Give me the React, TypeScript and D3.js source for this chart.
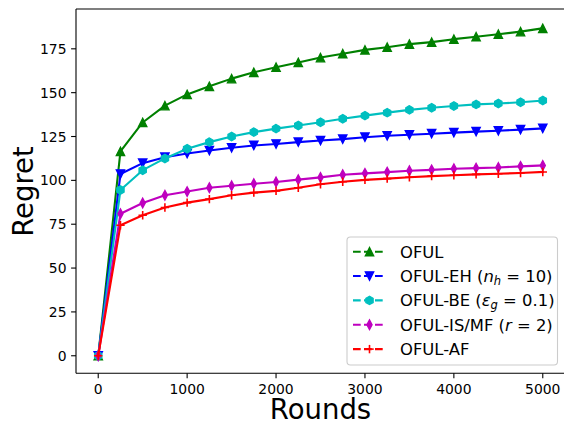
import React from "react";
import * as d3 from "d3";

const rounds = [0, 250, 500, 750, 1000, 1250, 1500, 1750, 2000, 2250, 2500, 2750, 3000, 3250, 3500, 3750, 4000, 4250, 4500, 4750, 5000];

const oful = [0, 116.5, 133, 142.6, 149, 153.6, 158, 161.6, 164.5, 167.2, 170, 172.2, 174.4, 175.9, 177.7, 178.8, 180.5, 181.9, 183.3, 184.8, 186.7];
const ofulEH = [0, 103.6, 109.8, 113.2, 115.3, 117, 118.6, 119.9, 120.7, 121.8, 122.7, 123.5, 124.6, 125.4, 126, 126.6, 127.2, 127.8, 128.3, 128.9, 129.6];
const ofulBE = [0, 94.5, 105.8, 112.5, 118, 121.8, 125, 127.5, 129.5, 131.3, 133.1, 135.1, 136.9, 138.6, 140.2, 141.4, 142.4, 143.3, 143.8, 144.5, 145.5];
const ofulIS = [0, 81, 87.1, 91.5, 93.6, 95.8, 96.9, 98.1, 99.1, 100.4, 101.7, 103.2, 104, 104.7, 105.5, 106, 106.6, 107, 107.3, 108, 108.5];
const ofulAF = [0, 74.4, 80.1, 84.5, 87.3, 89.3, 91.5, 93, 94, 95.8, 97.8, 99.2, 100.3, 101, 101.8, 102.4, 102.9, 103.4, 103.8, 104.2, 104.8];

const xTicks = [0, 1000, 2000, 3000, 4000, 5000];
const yTicks = [0, 25, 50, 75, 100, 125, 150, 175];

const seriesNames = ["OFUL", "OFUL-EH", "OFUL-BE", "OFUL-IS/MF", "OFUL-AF"];
const seriesColors = ["#008000", "#0000ff", "#00bfbf", "#bf00bf", "#ff0000"];
const seriesMarkers = ["triUp", "triDown", "hex", "thinDiamond", "plus"];
const seriesValues = [oful, ofulEH, ofulBE, ofulIS, ofulAF];

const FONT = "DejaVu Sans, sans-serif";

function Marker({ kind, x, y, color }: { kind: string; x: number; y: number; color: string }) {
  const s = 4.2;
  if (kind === "triUp") {
    const p = `${x},${y - s} ${x - s},${y + s} ${x + s},${y + s}`;
    return <polygon points={p} fill={color} stroke={color} strokeWidth={1.3} strokeLinejoin="miter" />;
  }
  if (kind === "triDown") {
    const p = `${x},${y + s} ${x - s},${y - s} ${x + s},${y - s}`;
    return <polygon points={p} fill={color} stroke={color} strokeWidth={1.3} strokeLinejoin="miter" />;
  }
  if (kind === "hex") {
    const pts: string[] = [];
    for (let i = 0; i < 6; i++) {
      const a = Math.PI / 2 + (i * Math.PI) / 3;
      pts.push(`${x + s * Math.cos(a)},${y - s * Math.sin(a)}`);
    }
    return <polygon points={pts.join(" ")} fill={color} stroke={color} strokeWidth={1.3} />;
  }
  if (kind === "thinDiamond") {
    const p = `${x},${y - s * 1.15} ${x - s * 0.62},${y} ${x},${y + s * 1.15} ${x + s * 0.62},${y}`;
    return <polygon points={p} fill={color} stroke={color} strokeWidth={1.3} />;
  }
  // plus
  return (
    <g stroke={color} strokeWidth={1.6}>
      <line x1={x - s} x2={x + s} y1={y} y2={y} />
      <line x1={x} x2={x} y1={y - s} y2={y + s} />
    </g>
  );
}

export default function App() {
  const W = 564;
  const H = 425;
  const left = 76;
  const right = 565;
  const top = 9;
  const bottom = 373.3;

  const x = d3.scaleLinear().domain([-250, 5250]).range([left, right]);
  const y = d3.scaleLinear().domain([-10, 197.7]).range([bottom, top]);

  const line = d3
    .line<number>()
    .x((_, i) => x(rounds[i]))
    .y((d) => y(d));

  const legendLabels: React.ReactNode[] = [
    <tspan>OFUL</tspan>,
    <>
      <tspan>OFUL-EH (</tspan>
      <tspan fontStyle="italic">n</tspan>
      <tspan fontStyle="italic" fontSize={11.5} dy={3}>h</tspan>
      <tspan dy={-3}> = 10)</tspan>
    </>,
    <>
      <tspan>OFUL-BE (</tspan>
      <tspan fontStyle="italic">ε</tspan>
      <tspan fontStyle="italic" fontSize={11.5} dy={3}>g</tspan>
      <tspan dy={-3}> = 0.1)</tspan>
    </>,
    <>
      <tspan>OFUL-IS/MF (</tspan>
      <tspan fontStyle="italic">r</tspan>
      <tspan> = 2)</tspan>
    </>,
    <tspan>OFUL-AF</tspan>,
  ];

  const legX = 347;
  const legY = 237;
  const rowY0 = 251.7;
  const rowStep = 24.35;

  return (
    <svg width={W} height={H} style={{ position: "absolute", left: 0, top: 0, background: "#fff" }} fontFamily={FONT}>
      <defs>
        <clipPath id="plotClip">
          <rect x={left} y={top} width={right - left} height={bottom - top} />
        </clipPath>
      </defs>
      <rect x={0} y={0} width={W} height={H} fill="#fff" />

      {/* series */}
      <g clipPath="url(#plotClip)">
        {seriesValues.map((vals, si) => (
          <g key={si}>
            <path d={line(vals) || ""} fill="none" stroke={seriesColors[si]} strokeWidth={2.1} strokeLinejoin="round" strokeLinecap="square" />
            {vals.map((v, i) => (
              <Marker key={i} kind={seriesMarkers[si]} x={x(rounds[i])} y={y(v)} color={seriesColors[si]} />
            ))}
          </g>
        ))}
      </g>

      {/* spines */}
      <g stroke="#000" strokeWidth={1.1} fill="none">
        <line x1={left} x2={left} y1={top} y2={bottom} />
        <line x1={left} x2={right} y1={bottom} y2={bottom} />
        <line x1={left} x2={right} y1={top} y2={top} />
        <line x1={right} x2={right} y1={top} y2={bottom} />
      </g>

      {/* x ticks */}
      {xTicks.map((t) => (
        <g key={t}>
          <line x1={x(t)} x2={x(t)} y1={bottom} y2={bottom + 4.9} stroke="#000" strokeWidth={1.1} />
          <text x={x(t)} y={bottom + 20.5} textAnchor="middle" fontSize={13.9} fill="#000">
            {t}
          </text>
        </g>
      ))}

      {/* y ticks */}
      {yTicks.map((t) => (
        <g key={t}>
          <line x1={left - 4.9} x2={left} y1={y(t)} y2={y(t)} stroke="#000" strokeWidth={1.1} />
          <text x={left - 9.5} y={y(t) + 5} textAnchor="end" fontSize={13.9} fill="#000">
            {t}
          </text>
        </g>
      ))}

      {/* axis labels */}
      <text x={(left + right) / 2} y={418.5} textAnchor="middle" fontSize={27.5} fill="#000">
        Rounds
      </text>
      <text transform={`translate(33,191.5) rotate(-90)`} textAnchor="middle" fontSize={27.5} fill="#000">
        Regret
      </text>

      {/* legend */}
      <rect x={legX} y={legY} width={210.5} height={128} rx={3.5} fill="#fff" fillOpacity={0.8} stroke="#cccccc" strokeWidth={1.1} />
      {seriesNames.map((n, i) => {
        const ry = rowY0 + i * rowStep;
        return (
          <g key={n}>
            <line x1={353} x2={386} y1={ry} y2={ry} stroke={seriesColors[i]} strokeWidth={2.1} strokeDasharray="7.7 3.3" />
            <Marker kind={seriesMarkers[i]} x={369.5} y={ry} color={seriesColors[i]} />
            <text x={400} y={ry + 6} fontSize={16.4} fill="#000">
              {legendLabels[i]}
            </text>
          </g>
        );
      })}
    </svg>
  );
}
